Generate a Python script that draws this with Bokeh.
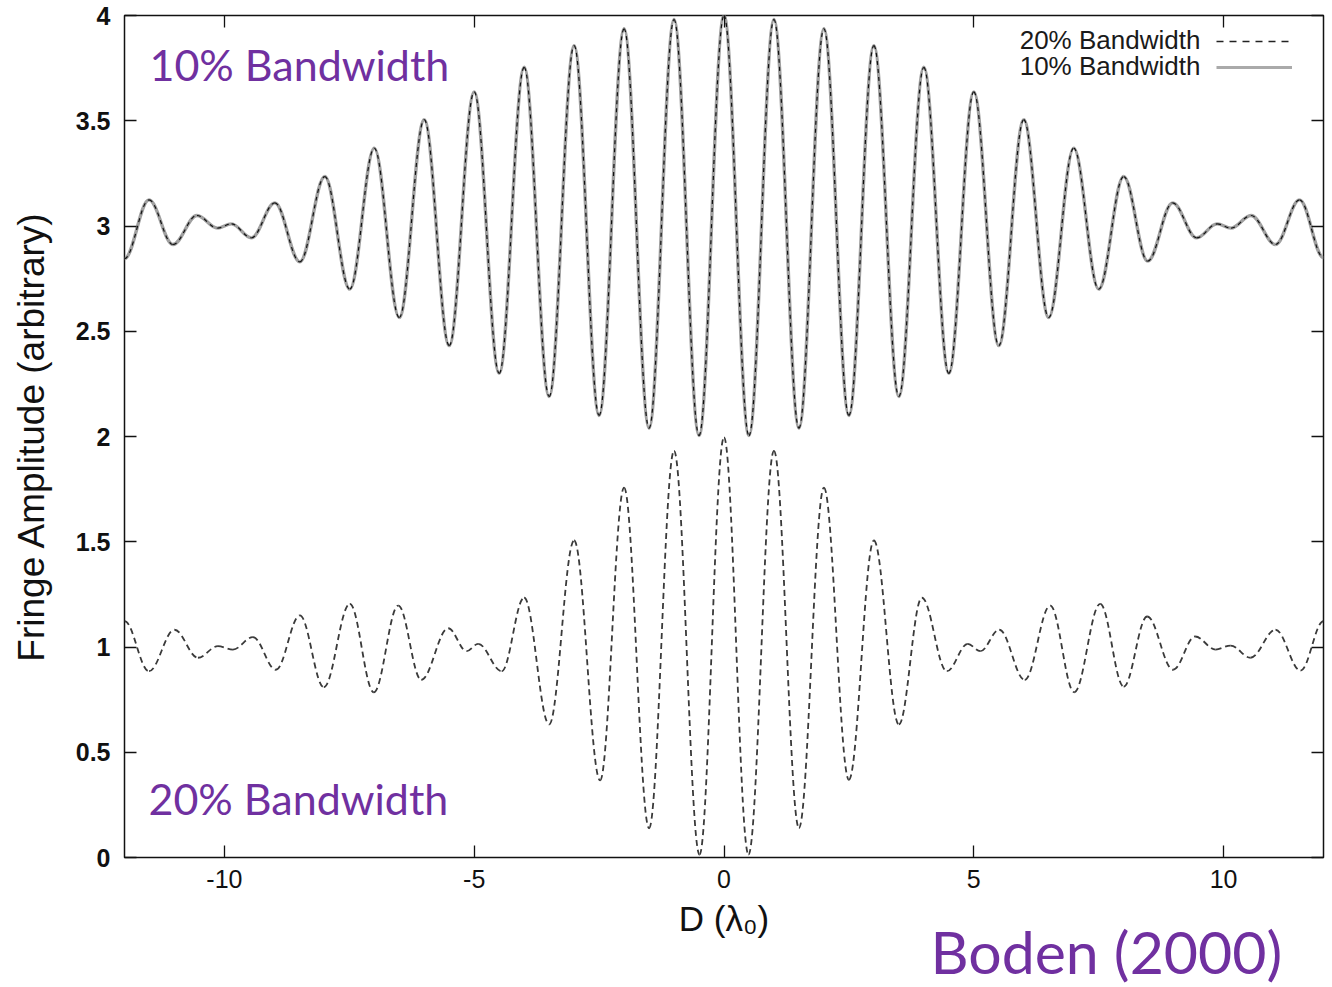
from bokeh.plotting import figure
from bokeh.models import (Range1d, FixedTicker, LinearAxis, Label, Legend,
                          LegendItem, ColumnDataSource, Title)
from bokeh.embed import file_html
from bokeh.resources import INLINE

# ---- data: extrema (peaks / troughs) of each fringe curve ----
tenpct_x = [-12.0, -11.51, -11.03, -10.55, -10.14, -9.86, -9.46, -8.99, -8.49, -7.99,
            -7.49, -7.0, -6.5, -6.0, -5.5, -5.0, -4.5, -4.0, -3.5, -3.0, -2.5, -2.0,
            -1.5, -1.0, -0.5, 0.0, 0.5, 1.0, 1.5, 2.0, 2.5, 3.0, 3.5, 4.0, 4.5, 5.0,
            5.5, 6.0, 6.5, 7.0, 7.5, 8.0, 8.48, 8.98, 9.46, 9.87, 10.15, 10.55, 11.04,
            11.52, 12.0]
tenpct_y = [2.845, 3.124, 2.912, 3.05, 2.99, 3.01, 2.944, 3.11, 2.83, 3.235,
            2.70, 3.37, 2.565, 3.505, 2.432, 3.637, 2.30, 3.754, 2.19, 3.857, 2.10, 3.937,
            2.04, 3.981, 2.005, 4.0, 2.005, 3.981, 2.04, 3.937, 2.10, 3.857, 2.19, 3.754, 2.30, 3.637,
            2.432, 3.505, 2.565, 3.37, 2.70, 3.235, 2.833, 3.11, 2.944, 3.01, 2.99, 3.05, 2.912,
            3.124, 2.85]

twentypct_x = [-12.0, -11.51, -11.0, -10.53, -10.13, -9.83, -9.43, -8.97, -8.49, -8.01,
               -7.49, -7.01, -6.52, -6.06, -5.52, -5.15, -4.92, -4.45, -4.0, -3.5, -3.0,
               -2.48, -2.0, -1.5, -1.0, -0.49, 0.0, 0.49, 1.0, 1.5, 2.0, 2.5, 3.0, 3.5,
               3.96, 4.46, 4.88, 5.13, 5.51, 6.02, 6.53, 7.01, 7.53, 8.0, 8.47, 8.99, 9.43,
               9.84, 10.14, 10.54, 11.04, 11.54, 12.0]
twentypct_y = [1.123, 0.885, 1.082, 0.949, 1.004, 0.988, 1.047, 0.892, 1.15, 0.809,
               1.205, 0.785, 1.197, 0.844, 1.089, 0.98, 1.015, 0.885, 1.234, 0.632, 1.506,
               0.366, 1.757, 0.139, 1.932, 0.014, 1.996, 0.014, 1.932, 0.14, 1.757, 0.369, 1.506, 0.632,
               1.234, 0.885, 1.015, 0.98, 1.082, 0.844, 1.197, 0.785, 1.205, 0.812, 1.145, 0.892, 1.05,
               0.988, 1.007, 0.949, 1.082, 0.888, 1.123]

x_ticks = [-10, -5, 0, 5, 10]
x_tick_labels = ["-10", "-5", "0", "5", "10"]
y_ticks = [0, 0.5, 1, 1.5, 2, 2.5, 3, 3.5, 4]
y_tick_labels = ["0", "0.5", "1", "1.5", "2", "2.5", "3", "3.5", "4"]

series_names = ["20% Bandwidth", "10% Bandwidth"]

K = 0.3642  # handle fraction giving a cosine-shaped cubic between two extrema


def bezier_source(xs, ys):
    x0, x1 = xs[:-1], xs[1:]
    y0, y1 = ys[:-1], ys[1:]
    cx0 = [a + K * (b - a) for a, b in zip(x0, x1)]
    cx1 = [b - K * (b - a) for a, b in zip(x0, x1)]
    return ColumnDataSource(dict(x0=x0, y0=y0, x1=x1, y1=y1,
                                 cx0=cx0, cy0=y0, cx1=cx1, cy1=y1))


FONT = "Liberation Sans"
PURPLE = "#7030A0"

p = figure(frame_width=1199, frame_height=842,
           x_range=Range1d(-12, 12), y_range=Range1d(0, 4),
           output_backend="svg", toolbar_location=None,
           min_border_left=124, min_border_right=9,
           min_border_top=15, min_border_bottom=130)
p.background_fill_color = "white"
p.border_fill_color = "white"
p.grid.visible = False
p.outline_line_color = "#111111"
p.outline_line_width = 1.5

# curves
src10 = bezier_source(tenpct_x, tenpct_y)
src20 = bezier_source(twentypct_x, twentypct_y)
bz = dict(x0="x0", y0="y0", x1="x1", y1="y1", cx0="cx0", cy0="cy0", cx1="cx1", cy1="cy1")
p.bezier(source=src10, line_color="#a0a0a0", line_width=3.4, **bz)
p.bezier(source=src10, line_color="#111111", line_width=1.2, line_dash="4 4", **bz)
p.bezier(source=src20, line_color="#3a3a3a", line_width=1.8, line_dash="6 4", **bz)

# axes
for ax in (p.xaxis[0], p.yaxis[0]):
    ax.axis_line_color = None
    ax.major_tick_in = 12
    ax.major_tick_out = 0
    ax.minor_tick_line_color = None
    ax.major_tick_line_color = "#111111"
    ax.major_tick_line_width = 1.3
    ax.major_label_text_font = FONT
    ax.major_label_text_font_size = "25px"
    ax.major_label_text_color = "#111111"
    ax.axis_label_text_font = FONT
    ax.axis_label_text_font_style = "normal"
    ax.axis_label_text_color = "#111111"

p.xaxis[0].ticker = FixedTicker(ticks=x_ticks)
p.xaxis[0].major_label_overrides = dict(zip(x_ticks, x_tick_labels))
p.yaxis[0].ticker = FixedTicker(ticks=y_ticks)
p.yaxis[0].major_label_overrides = dict(zip(y_ticks, y_tick_labels))
p.yaxis[0].major_label_text_font_style = "bold"
p.xaxis[0].axis_label = "D (λ₀)"
p.yaxis[0].axis_label = "Fringe Amplitude (arbitrary)"
p.xaxis[0].axis_label_text_font_size = "35px"
p.yaxis[0].axis_label_text_font_size = "37px"
p.xaxis[0].major_label_standoff = 12
p.yaxis[0].major_label_standoff = 14
p.xaxis[0].axis_label_standoff = 8
p.yaxis[0].axis_label_standoff = 21

# mirrored ticks on right and top
right_ax = LinearAxis(ticker=FixedTicker(ticks=y_ticks))
top_ax = LinearAxis(ticker=FixedTicker(ticks=x_ticks))
for ax in (right_ax, top_ax):
    ax.axis_line_color = None
    ax.major_tick_in = 12
    ax.major_tick_out = 0
    ax.minor_tick_line_color = None
    ax.major_tick_line_color = "#111111"
    ax.major_tick_line_width = 1.3
    ax.major_label_text_font_size = "0px"
    ax.major_label_standoff = 0
p.add_layout(right_ax, "right")
p.add_layout(top_ax, "above")

# legend proxies (a single undefined point: draws nothing, only styles the legend sample)
nan = float("nan")
r_leg20 = p.line(x=[nan], y=[nan], line_color="#222222", line_width=1.5, line_dash="7 6")
r_leg10 = p.line(x=[nan], y=[nan], line_color="#aaaaaa", line_width=3)
legend = Legend(items=[LegendItem(label=" ", renderers=[r_leg20]),
                       LegendItem(label=" ", renderers=[r_leg10])],
                location="top_right", glyph_width=76, glyph_height=26,
                label_width=18, label_height=26, label_standoff=0,
                padding=0, margin=13, spacing=0,
                border_line_color=None, background_fill_alpha=0,
                label_text_font_size="2px")
p.add_layout(legend)

p.add_layout(Label(x=9.535, y=3.812, text=series_names[0], text_align="right",
                   text_baseline="bottom",
                   text_font=FONT, text_font_size="26px", text_color="#1a1a1a"))
p.add_layout(Label(x=9.535, y=3.689, text=series_names[1], text_align="right",
                   text_baseline="bottom",
                   text_font=FONT, text_font_size="26px", text_color="#1a1a1a"))

# purple annotations
p.add_layout(Label(x=-11.5, y=3.648, text="10% Bandwidth", text_font="Lato",
                   text_baseline="bottom",
                   text_font_size="43px", text_color=PURPLE))
p.add_layout(Label(x=-11.52, y=0.157, text="20% Bandwidth", text_font="Lato",
                   text_baseline="bottom",
                   text_font_size="43px", text_color=PURPLE))

credit = Title(text="Boden (2000)", align="left", offset=806, standoff=-54,
               vertical_align="bottom", text_font="Lato", text_font_size="59px",
               text_font_style="normal", text_color=PURPLE)
p.add_layout(credit, "below")

open("out.html", "w").write(file_html(p, INLINE))
